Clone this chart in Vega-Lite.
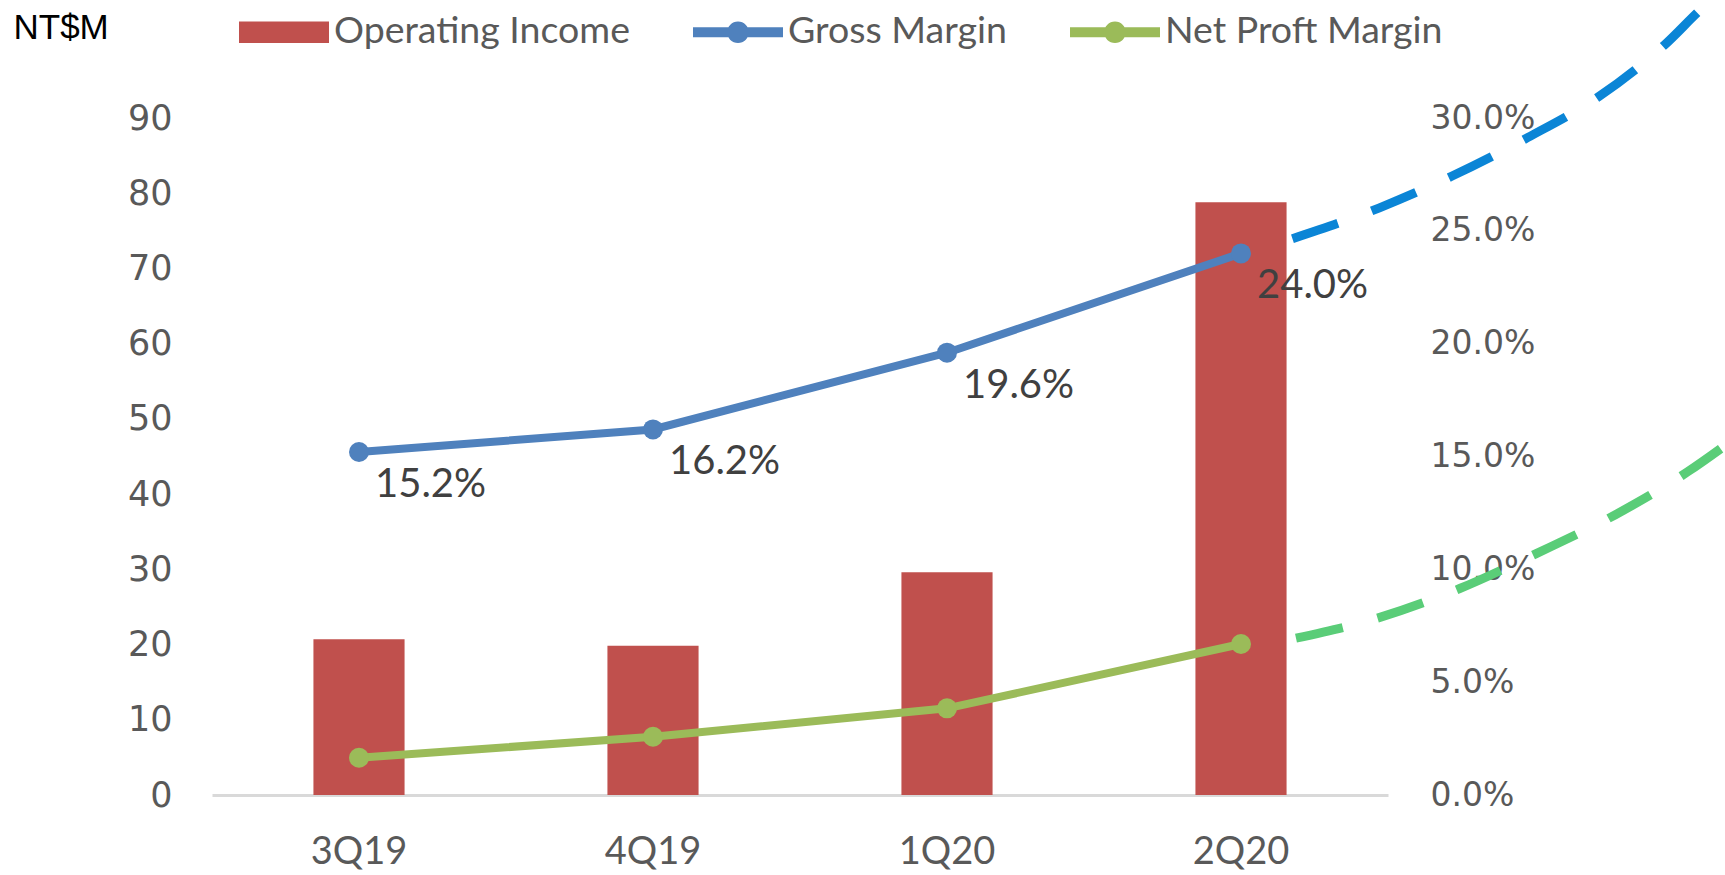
{
  "$schema": "https://vega.github.io/schema/vega-lite/v6.json",
  "width": 1176,
  "height": 677,
  "autosize": {"type": "none"},
  "padding": {"left": 212, "top": 118, "right": 337, "bottom": 80},
  "background": "white",
  "config": {
    "font": "Lato",
    "view": {"stroke": null},
    "legend": {
      "title": null,
      "orient": "none",
      "legendX": 27,
      "legendY": -131,
      "direction": "horizontal",
      "symbolSize": 8100,
      "symbolOpacity": 1,
      "symbolStrokeWidth": 0,
      "labelFont": "Lato",
      "labelFontSize": 37.5,
      "labelColor": "#595959",
      "labelOffset": 5,
      "labelLimit": 0,
      "columnPadding": 63
    }
  },
  "datasets": {
    "quarters": [
      {"quarter": "3Q19", "income": 20.7, "gross": 0.152, "net": 0.0165},
      {"quarter": "4Q19", "income": 19.85, "gross": 0.162, "net": 0.0258},
      {"quarter": "1Q20", "income": 29.6, "gross": 0.196, "net": 0.0384},
      {"quarter": "2Q20", "income": 78.8, "gross": 0.24, "net": 0.0669}
    ],
    "projection": [
      {"series": "Gross Margin", "u": 3.675, "p": 0.2465},
      {"series": "Gross Margin", "u": 3.971, "p": 0.2602},
      {"series": "Gross Margin", "u": 4.218, "p": 0.2743},
      {"series": "Gross Margin", "u": 4.476, "p": 0.2914},
      {"series": "Gross Margin", "u": 4.716, "p": 0.3094},
      {"series": "Gross Margin", "u": 4.94, "p": 0.3323},
      {"series": "Gross Margin", "u": 5.075, "p": 0.3494},
      {"series": "Gross Margin", "u": 5.172, "p": 0.3596},
      {"series": "Net Proft Margin", "u": 3.687, "p": 0.0695},
      {"series": "Net Proft Margin", "u": 3.975, "p": 0.0788},
      {"series": "Net Proft Margin", "u": 4.244, "p": 0.0915},
      {"series": "Net Proft Margin", "u": 4.506, "p": 0.1071},
      {"series": "Net Proft Margin", "u": 4.772, "p": 0.1241},
      {"series": "Net Proft Margin", "u": 5.019, "p": 0.1432},
      {"series": "Net Proft Margin", "u": 5.172, "p": 0.1573}
    ],
    "legendItems": [
      {"series": "Operating Income"},
      {"series": "Gross Margin"},
      {"series": "Net Proft Margin"}
    ]
  },
  "layer": [
    {
      "data": {"name": "quarters"},
      "mark": {"type": "bar", "color": "#C0504D"},
      "encoding": {
        "x": {
          "field": "quarter",
          "type": "nominal",
          "sort": null,
          "scale": {"paddingInner": 0.69, "paddingOuter": 0.345},
          "axis": {
            "title": null,
            "labelAngle": 0,
            "labelFont": "Lato",
            "labelFontSize": 38,
            "labelColor": "#595959",
            "labelPadding": 38,
            "ticks": false,
            "tickSize": 0,
            "domainColor": "#D9D9D9",
            "domainWidth": 3
          }
        },
        "y": {
          "field": "income",
          "type": "quantitative",
          "scale": {"domain": [0, 90], "nice": false},
          "axis": {
            "orient": "left",
            "values": [0, 10, 20, 30, 40, 50, 60, 70, 80, 90],
            "grid": false,
            "domain": false,
            "ticks": false,
            "tickSize": 0,
            "labelFont": "DejaVu Sans",
            "labelFontSize": 35,
            "labelColor": "#595959",
            "labelPadding": 40,
            "title": "NT$M",
            "titleAngle": 0,
            "titleX": -199,
            "titleY": -108,
            "titleAlign": "left",
            "titleBaseline": "top",
            "titleFont": "Liberation Sans",
            "titleFontSize": 35,
            "titleFontWeight": "normal",
            "titleColor": "#000000"
          }
        }
      }
    },
    {
      "data": {"name": "quarters"},
      "encoding": {
        "x": {"field": "quarter", "type": "nominal", "sort": null, "axis": null}
      },
      "layer": [
        {
          "mark": {"type": "line", "color": "#4F81BD", "strokeWidth": 8},
          "encoding": {
            "y": {
              "field": "gross",
              "type": "quantitative",
              "scale": {"domain": [0, 0.3], "nice": false},
              "axis": {
                "orient": "right",
                "title": null,
                "format": ".1%",
                "values": [0, 0.05, 0.1, 0.15, 0.2, 0.25, 0.3],
                "grid": false,
                "domain": false,
                "ticks": false,
                "tickSize": 0,
                "labelFont": "DejaVu Sans",
                "labelFontSize": 33,
                "labelColor": "#595959",
                "labelPadding": 42
              }
            }
          }
        },
        {
          "mark": {"type": "point", "filled": true, "opacity": 1, "color": "#4F81BD", "size": 400},
          "encoding": {"y": {"field": "gross", "type": "quantitative"}}
        },
        {
          "mark": {"type": "text", "align": "left", "baseline": "middle", "dx": 16, "dy": 33, "font": "Lato", "fontSize": 40, "color": "#404040"},
          "encoding": {
            "y": {"field": "gross", "type": "quantitative"},
            "text": {"field": "gross", "type": "quantitative", "format": ".1%"}
          }
        },
        {
          "mark": {"type": "line", "color": "#9BBB59", "strokeWidth": 8},
          "encoding": {"y": {"field": "net", "type": "quantitative"}}
        },
        {
          "mark": {"type": "point", "filled": true, "opacity": 1, "color": "#9BBB59", "size": 400},
          "encoding": {"y": {"field": "net", "type": "quantitative"}}
        }
      ]
    },
    {
      "data": {"name": "projection"},
      "encoding": {
        "x": {"field": "u", "type": "quantitative", "scale": {"domain": [0, 4], "nice": false, "zero": false}, "axis": null},
        "y": {"field": "p", "type": "quantitative", "scale": {"domain": [0, 0.3], "nice": false}, "axis": null}
      },
      "layer": [
        {
          "transform": [{"filter": "datum.series == 'Gross Margin'"}],
          "mark": {"type": "line", "color": "#0B85D6", "strokeWidth": 9, "strokeDash": [48, 36], "interpolate": "monotone", "clip": false}
        },
        {
          "transform": [{"filter": "datum.series == 'Net Proft Margin'"}],
          "mark": {"type": "line", "color": "#5ACD78", "strokeWidth": 9, "strokeDash": [48, 36], "interpolate": "monotone", "clip": false}
        }
      ]
    },
    {
      "data": {"name": "legendItems"},
      "mark": {"type": "point", "filled": true, "opacity": 0},
      "encoding": {
        "color": {
          "field": "series",
          "type": "nominal",
          "sort": null,
          "scale": {
            "domain": ["Operating Income", "Gross Margin", "Net Proft Margin"],
            "range": ["#C0504D", "#4F81BD", "#9BBB59"]
          }
        },
        "shape": {
          "field": "series",
          "type": "nominal",
          "sort": null,
          "scale": {
            "domain": ["Operating Income", "Gross Margin", "Net Proft Margin"],
            "range": [
              "M-1,-0.24H1V0.24H-1Z",
              "M-1,-0.11H1V0.11H-1Z M0.24,0A0.24,0.24 0 1,1 -0.24,0A0.24,0.24 0 1,1 0.24,0Z",
              "M-1,-0.11H1V0.11H-1Z M0.24,0A0.24,0.24 0 1,1 -0.24,0A0.24,0.24 0 1,1 0.24,0Z"
            ]
          }
        }
      }
    }
  ],
  "resolve": {"scale": {"x": "independent", "y": "independent"}}
}
